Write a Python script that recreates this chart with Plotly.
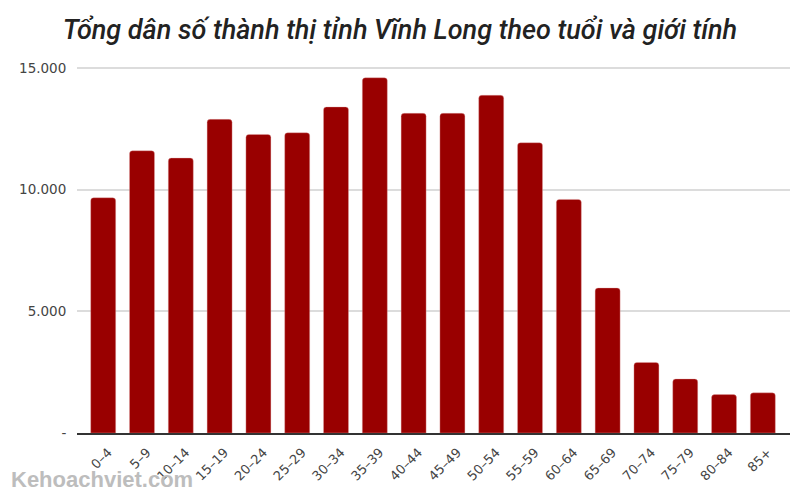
import plotly.graph_objects as go

age_groups = ["0–4", "5–9", "10–14", "15–19", "20–24", "25–29", "30–34", "35–39",
              "40–44", "45–49", "50–54", "55–59", "60–64", "65–69", "70–74",
              "75–79", "80–84", "85+"]
population = [9670, 11600, 11300, 12890, 12270, 12340, 13400, 14600,
              13140, 13140, 13880, 11930, 9600, 5960, 2900, 2220, 1580, 1650]

y_tickvals = [0, 5000, 10000, 15000]
y_ticktext = ["-", "5.000", "10.000", "15.000"]

title_text = "Tổng dân số thành thị tỉnh Vĩnh Long theo tuổi và giới tính"
watermark = "Kehoachviet.com"

fig = go.Figure()
fig.add_trace(go.Bar(
    x=list(range(len(age_groups))),
    y=population,
    marker=dict(color="#990000", cornerradius=3,
                line=dict(color="rgba(230,170,170,0.6)", width=0.6)),
    hoverinfo="y",
))

fig.update_layout(
    width=800, height=500,
    margin=dict(l=77, r=10, t=60, b=67, autoexpand=False),
    paper_bgcolor="white", plot_bgcolor="white",
    bargap=0.356,
    showlegend=False,
    title=dict(text=title_text, x=0.5, xanchor="center", y=0.94, yref="container",
               yanchor="middle",
               font=dict(family="Roboto", size=27, color="#222", style="italic", weight=500)),
    xaxis=dict(
        tickmode="array",
        tickvals=list(range(len(age_groups))),
        ticktext=age_groups,
        tickangle=-45,
        range=[-0.675, 17.70],
        showgrid=False,
        showline=True, linecolor="#333", linewidth=1.5,
        ticks="outside", ticklen=5, tickcolor="rgba(0,0,0,0)",
        ticklabelshift=5,
        tickfont=dict(family="DejaVu Sans", size=13, color="#444"),
        automargin=False,
        fixedrange=True,
    ),
    yaxis=dict(
        range=[0, 15330],
        tickmode="array",
        tickvals=y_tickvals,
        ticktext=y_ticktext,
        showgrid=True, gridcolor="#dcdcdc", gridwidth=1.5,
        zeroline=False,
        ticks="outside", ticklen=7, tickcolor="rgba(0,0,0,0)",
        tickfont=dict(family="DejaVu Sans", size=13.5, color="#444"),
        automargin=False,
        fixedrange=True,
    ),
    annotations=[dict(
        text="<b>" + watermark + "</b>", xref="paper", yref="paper",
        x=-0.095, y=-0.085, xanchor="left", yanchor="top", showarrow=False,
        font=dict(family="Liberation Sans", size=22, color="#bdbdbd"),
    )],
)

fig.write_html("out.html", config={"displayModeBar": False},
               post_script="document.body.style.margin='0';")
